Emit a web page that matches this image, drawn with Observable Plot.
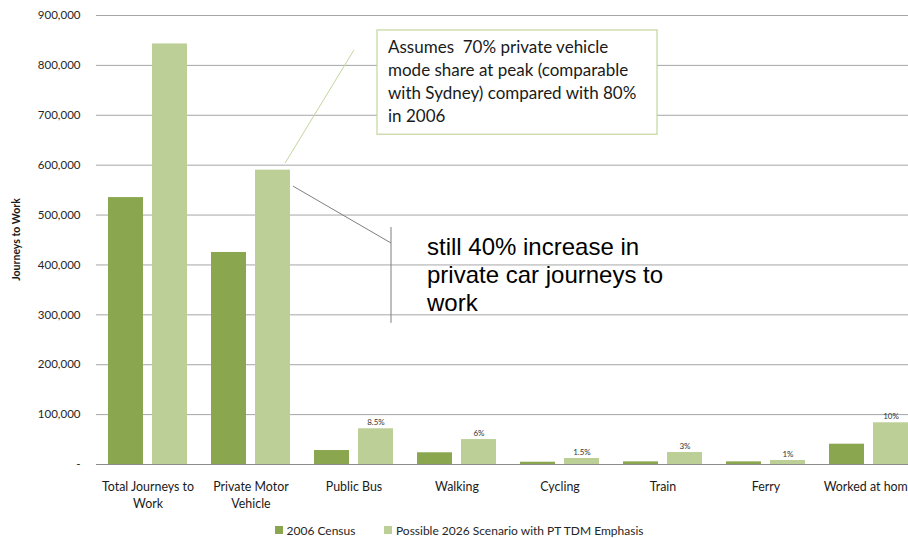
<!DOCTYPE html>
<html>
<head>
<meta charset="utf-8">
<script src="https://cdn.jsdelivr.net/npm/d3@7"></script>
<script src="https://cdn.jsdelivr.net/npm/@observablehq/plot@0.6"></script>
<style>
  html, body { margin: 0; padding: 0; background: #fff; width: 908px; height: 538px; overflow: hidden; }
  #chart { width: 920px; position: relative; }
  .legend { display: flex; align-items: center; padding-left: 275px; padding-top: 13px; height: 14px;
            font-family: Lato, "Open Sans", sans-serif; font-size: 12px; color: #262626; }
  .legend .sw { width: 7.5px; height: 7.5px; margin-right: 4px; }
  .legend .item { display: flex; align-items: center; margin-right: 29px; }
</style>
</head>
<body>
<div id="chart"></div>
<script>
// ---- data ----
const categories = ["Total Journeys to Work", "Private Motor Vehicle", "Public Bus", "Walking", "Cycling", "Train", "Ferry", "Worked at home"];
const categoryLabels = ["Total Journeys to\nWork", "Private Motor\nVehicle", "Public Bus", "Walking", "Cycling", "Train", "Ferry", "Worked at home"];
const series = ["2006 Census", "Possible 2026 Scenario with PT TDM Emphasis"];
const census2006 = [535000, 425000, 28000, 23500, 4600, 5300, 5300, 40700];
const scenario2026 = [843000, 590000, 71600, 50000, 12000, 24000, 8000, 83600];
const shareLabels = ["", "", "8.5%", "6%", "1.5%", "3%", "1%", "10%"];
const yTicks = [0, 100000, 200000, 300000, 400000, 500000, 600000, 700000, 800000, 900000];
const colors = ["#8aa64f", "#bccf97"];

const calloutText = ["Assumes  70% private vehicle", "mode share at peak (comparable", "with Sydney) compared with 80%", "in 2006"];
const increaseText = ["still 40% increase in", "private car journeys to", "work"];

// ---- table ----
const data = categories.flatMap((c, i) => [
  {cat: c, series: series[0], value: census2006[i], share: ""},
  {cat: c, series: series[1], value: scenario2026[i], share: shareLabels[i]}
]);

const font = "Lato, 'Open Sans', sans-serif";
const fmt = d3.format(",");

const chart = Plot.plot({
  width: 920,
  height: 510,
  marginTop: 15,
  marginBottom: 46,
  marginLeft: 96,
  marginRight: 0,
  style: {fontFamily: font, fontSize: "11.5px", color: "#262626", background: "#fff", overflow: "visible"},
  fx: {domain: categories, padding: 0, axis: null, label: null},
  x: {domain: series, paddingInner: 9 / 44, paddingOuter: 12 / 44, axis: null},
  y: {domain: [0, 900000], axis: null},
  color: {domain: series, range: colors},
  marks: [
    Plot.gridY(yTicks, {stroke: "#a6a6a6", strokeOpacity: 1, strokeWidth: 1}),
    Plot.barY(data, {fx: "cat", x: "series", y: "value", fill: "series"}),
    Plot.ruleY([0], {stroke: "#8c8c8c", strokeWidth: 1.2}),
    Plot.axisY(yTicks, {tickSize: 0, tickPadding: 16, tickFormat: d => d === 0 ? "-" : fmt(d), fontSize: 11.5, fill: "#262626", label: null}),
    Plot.text(categories, {fx: d => d, text: (d, i) => categoryLabels[i], frameAnchor: "bottom", lineAnchor: "top", dy: 15, lineHeight: 1.35, fontSize: 12.4, fill: "#1a1a1a"}),
    Plot.text(data.filter(d => d.share), {fx: "cat", x: "series", y: "value", text: "share", lineAnchor: "bottom", dy: -4, fontSize: 8, fill: "#333"})
  ]
});

// ---- annotations, anchored through the plot's own scales ----
const fxs = chart.scale("fx"), ys = chart.scale("y");
const X = (cat, off) => fxs.apply(cat) + off;
const Y = v => ys.apply(v);
const svg = d3.select(chart);
const g = svg.append("g");

// y-axis title
g.append("text")
  .attr("transform", `translate(16,${(Y(0) + Y(900000)) / 2}) rotate(-90)`)
  .attr("text-anchor", "middle").attr("dominant-baseline", "central")
  .attr("font-family", font).attr("font-weight", "bold").attr("font-size", 10.5).attr("fill", "#1a1a1a")
  .text("Journeys to Work");

// callout leader
g.append("line")
  .attr("x1", X("Private Motor Vehicle", 86)).attr("y1", Y(603000))
  .attr("x2", X("Private Motor Vehicle", 155)).attr("y2", Y(830000))
  .attr("stroke", "#c3d69b").attr("stroke-width", 1);

// callout box
const bx = X("Public Bus", 75), by = Y(870000), bh = Y(661000) - Y(870000);
g.append("rect").attr("x", bx).attr("y", by).attr("width", 280).attr("height", bh)
  .attr("fill", "#fff").attr("stroke", "#c3d69b").attr("stroke-width", 1.2);
g.append("g").selectAll("text").data(calloutText).join("text")
  .attr("x", bx + 11).attr("y", (d, i) => by + 17 + i * 23)
  .attr("text-anchor", "start").attr("dominant-baseline", "central")
  .attr("font-family", font).attr("font-size", 17).attr("fill", "#1a1a1a")
  .attr("xml:space", "preserve").style("white-space", "pre")
  .text(d => d);

// second annotation
g.append("line")
  .attr("x1", X("Private Motor Vehicle", 94)).attr("y1", Y(557000))
  .attr("x2", X("Public Bus", 89)).attr("y2", Y(443000))
  .attr("stroke", "#7f7f7f").attr("stroke-width", 1);
g.append("line")
  .attr("x1", X("Public Bus", 89)).attr("y1", Y(475000))
  .attr("x2", X("Public Bus", 89)).attr("y2", Y(283000))
  .attr("stroke", "#7f7f7f").attr("stroke-width", 1);
g.append("g").selectAll("text").data(increaseText).join("text")
  .attr("x", X("Public Bus", 125)).attr("y", (d, i) => Y(435000) + i * 28)
  .attr("text-anchor", "start").attr("dominant-baseline", "central")
  .attr("font-family", "'Liberation Sans', Arial, sans-serif").attr("font-size", 24).attr("fill", "#000")
  .text(d => d);

document.getElementById("chart").appendChild(chart);

// legend
const legend = document.createElement("div");
legend.className = "legend";
series.forEach((s, i) => {
  const it = document.createElement("div");
  it.className = "item";
  const sw = document.createElement("div");
  sw.className = "sw"; sw.style.background = colors[i];
  const t = document.createElement("span"); t.textContent = s;
  it.appendChild(sw); it.appendChild(t);
  legend.appendChild(it);
});
document.getElementById("chart").appendChild(legend);
</script>
</body>
</html>
